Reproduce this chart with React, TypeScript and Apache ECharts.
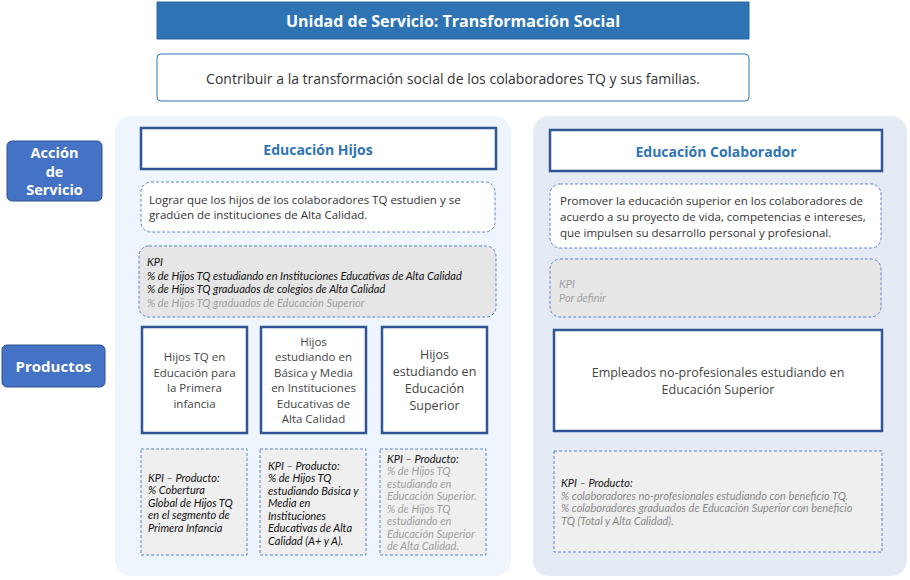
import React, { useEffect, useRef } from "react";
import * as echarts from "echarts";

const titleText = "Unidad de Servicio: Transformación Social";
const subtitleText = "Contribuir a la transformación social de los colaboradores TQ y sus familias.";
const sideLabels = ["Acción\nde\nServicio", "Productos"];
const columnTitles = ["Educación Hijos", "Educación Colaborador"];
const descHijos = "Lograr que los hijos de los colaboradores TQ estudien y se\ngradúen de instituciones de Alta Calidad.";
const descColab = "Promover la educación superior en los colaboradores de\nacuerdo a su proyecto de vida, competencias e intereses,\nque impulsen su desarrollo personal y profesional.";
const kpiHijos = ["KPI", "% de Hijos TQ estudiando en Instituciones Educativas de Alta Calidad", "% de Hijos TQ graduados de colegios de Alta Calidad"];
const kpiHijosGrey = "% de Hijos TQ graduados de Educación Superior";
const kpiColab = "KPI\nPor definir";
const productosHijos = ["Hijos TQ en\nEducación para\nla Primera\ninfancia", "Hijos\nestudiando en\nBásica y Media\nen Instituciones\nEducativas de\nAlta Calidad", "Hijos\nestudiando en\nEducación\nSuperior"];
const productoColab = "Empleados no-profesionales estudiando en\nEducación Superior";
const kpiProd1 = "KPI – Producto:\n% Cobertura\nGlobal de Hijos TQ\nen el segmento de\nPrimera Infancia";
const kpiProd2 = "KPI – Producto:\n% de Hijos TQ\nestudiando Básica y\nMedia en\nInstituciones\nEducativas de Alta\nCalidad (A+ y A).";
const kpiProd3Head = "KPI – Producto:";
const kpiProd3 = "% de Hijos TQ\nestudiando en\nEducación Superior.\n% de Hijos TQ\nestudiando en\nEducación Superior\nde Alta Calidad.";
const kpiProdColabHead = "KPI – Producto:";
const kpiProdColab = "% colaboradores no-profesionales estudiando con beneficio TQ.\n% colaboradores graduados de Educación Superior con beneficio\nTQ (Total y Alta Calidad).";

const F = "Open Sans";
const L = "Lato";

function rect(x: number, y: number, w: number, h: number, style: any, r = 0, z = 1) {
  return { type: "rect", z, shape: { x, y, width: w, height: h, r }, style };
}
function text(x: number, y: number, t: string, o: any = {}, z = 5) {
  return {
    type: "text", z, x, y,
    style: { text: t, fontFamily: F, fontSize: 12, fill: "#333", align: "center", verticalAlign: "middle", ...o },
  };
}
const dash = { fill: "#fff", stroke: "#5b84cf", lineWidth: 1, lineDash: [3, 2] };
const solid = { fill: "#fff", stroke: "#2f5597", lineWidth: 2.5 };

export default function App() {
  const ref = useRef<HTMLDivElement>(null);
  useEffect(() => {
    const chart = echarts.init(ref.current!, null, { renderer: "svg" });
    const g: any[] = [];
    g.push(rect(157, 2, 592, 37, { fill: "#2e74b5", stroke: "#2a66a0", lineWidth: 1 }));
    g.push(text(453, 20.5, titleText, { fill: "#fff", fontSize: 16, fontWeight: "bold" }));
    g.push(rect(157, 54, 592, 47, { fill: "#fff", stroke: "#2e74b5", lineWidth: 1 }, 4));
    g.push(text(453, 78, subtitleText, { fontSize: 14, fill: "#333" }));
    g.push(rect(115, 116, 396, 460, { fill: "#eff5fc" }, 16, 0));
    g.push(rect(533, 116, 374, 460, { fill: "#e4ebf5" }, 16, 0));
    g.push(rect(7, 141, 95, 60, { fill: "#4472c4", stroke: "#2f528f", lineWidth: 1 }, 5));
    g.push(text(54.5, 171, sideLabels[0], { fill: "#fff", fontSize: 14.5, fontWeight: "bold", lineHeight: 18.5 }));
    g.push(rect(2, 345, 103, 42, { fill: "#4472c4", stroke: "#2f528f", lineWidth: 1 }, 5));
    g.push(text(53.5, 366, sideLabels[1], { fill: "#fff", fontSize: 15, fontWeight: "bold" }));

    // left column
    g.push(rect(141, 128, 355, 41, solid));
    g.push(text(318, 149, columnTitles[0], { fill: "#2e74b5", fontSize: 14, fontWeight: "bold" }));
    g.push(rect(141, 182, 354, 50, dash, 10));
    g.push(text(149, 207, descHijos, { align: "left", fontSize: 11.5, lineHeight: 15 }));
    g.push(rect(139, 246, 357, 71, { ...dash, fill: "#e6e6e6" }, 10));
    g.push(text(147, 275, kpiHijos.join("\n"), { align: "left", fontFamily: L, fontStyle: "italic", fontSize: 11, lineHeight: 13.5, fill: "#111" }));
    g.push(text(147, 302, kpiHijosGrey, { align: "left", fontFamily: L, fontStyle: "italic", fontSize: 11, fill: "#a0a0a0" }));
    const px = [142, 261, 382];
    productosHijos.forEach((p, i) => {
      g.push(rect(px[i], 327, 105, 106, solid));
      g.push(text(px[i] + 52.5, 380, p, { fontSize: i === 2 ? 12.5 : 11.5, lineHeight: i === 2 ? 17 : 15.5, fill: "#444" }));
    });
    const kx = [141, 260, 380];
    kx.forEach((x) => g.push(rect(x, 449, 106, 106, { ...dash, fill: "#efefef" })));
    const it = { align: "left", fontFamily: L, fontStyle: "italic", fontSize: 11, lineHeight: 12.5, fill: "#111", verticalAlign: "top" };
    g.push(text(148, 471, kpiProd1, it));
    g.push(text(268, 459, kpiProd2, it));
    g.push(text(387, 452, kpiProd3Head, it));
    g.push(text(387, 464.5, kpiProd3, { ...it, fill: "#a0a0a0" }));

    // right column
    g.push(rect(550, 130, 332, 41, solid));
    g.push(text(716, 151, columnTitles[1], { fill: "#2e74b5", fontSize: 14, fontWeight: "bold" }));
    g.push(rect(550, 184, 331, 64, dash, 10));
    g.push(text(560, 216, descColab, { align: "left", fontSize: 11.5, lineHeight: 16 }));
    g.push(rect(550, 259, 331, 58, { ...dash, fill: "#e6e6e6" }, 10));
    g.push(text(559, 290, kpiColab, { align: "left", fontFamily: L, fontStyle: "italic", fontSize: 11, lineHeight: 14, fill: "#a0a0a0" }));
    g.push(rect(554, 330, 328, 101, solid));
    g.push(text(718, 381, productoColab, { fontSize: 12.5, lineHeight: 17, fill: "#444" }));
    g.push(rect(554, 451, 328, 101, { ...dash, fill: "#efefef" }));
    g.push(text(561, 476, kpiProdColabHead, { ...it, fontSize: 11 }));
    g.push(text(561, 489, kpiProdColab, { ...it, fill: "#8a8a8a" }));

    chart.setOption({ animation: false, graphic: g });
    return () => chart.dispose();
  }, []);
  return <div ref={ref} style={{ position: "fixed", left: 0, top: 0, width: 910, height: 580, background: "#fff" }} />;
}
